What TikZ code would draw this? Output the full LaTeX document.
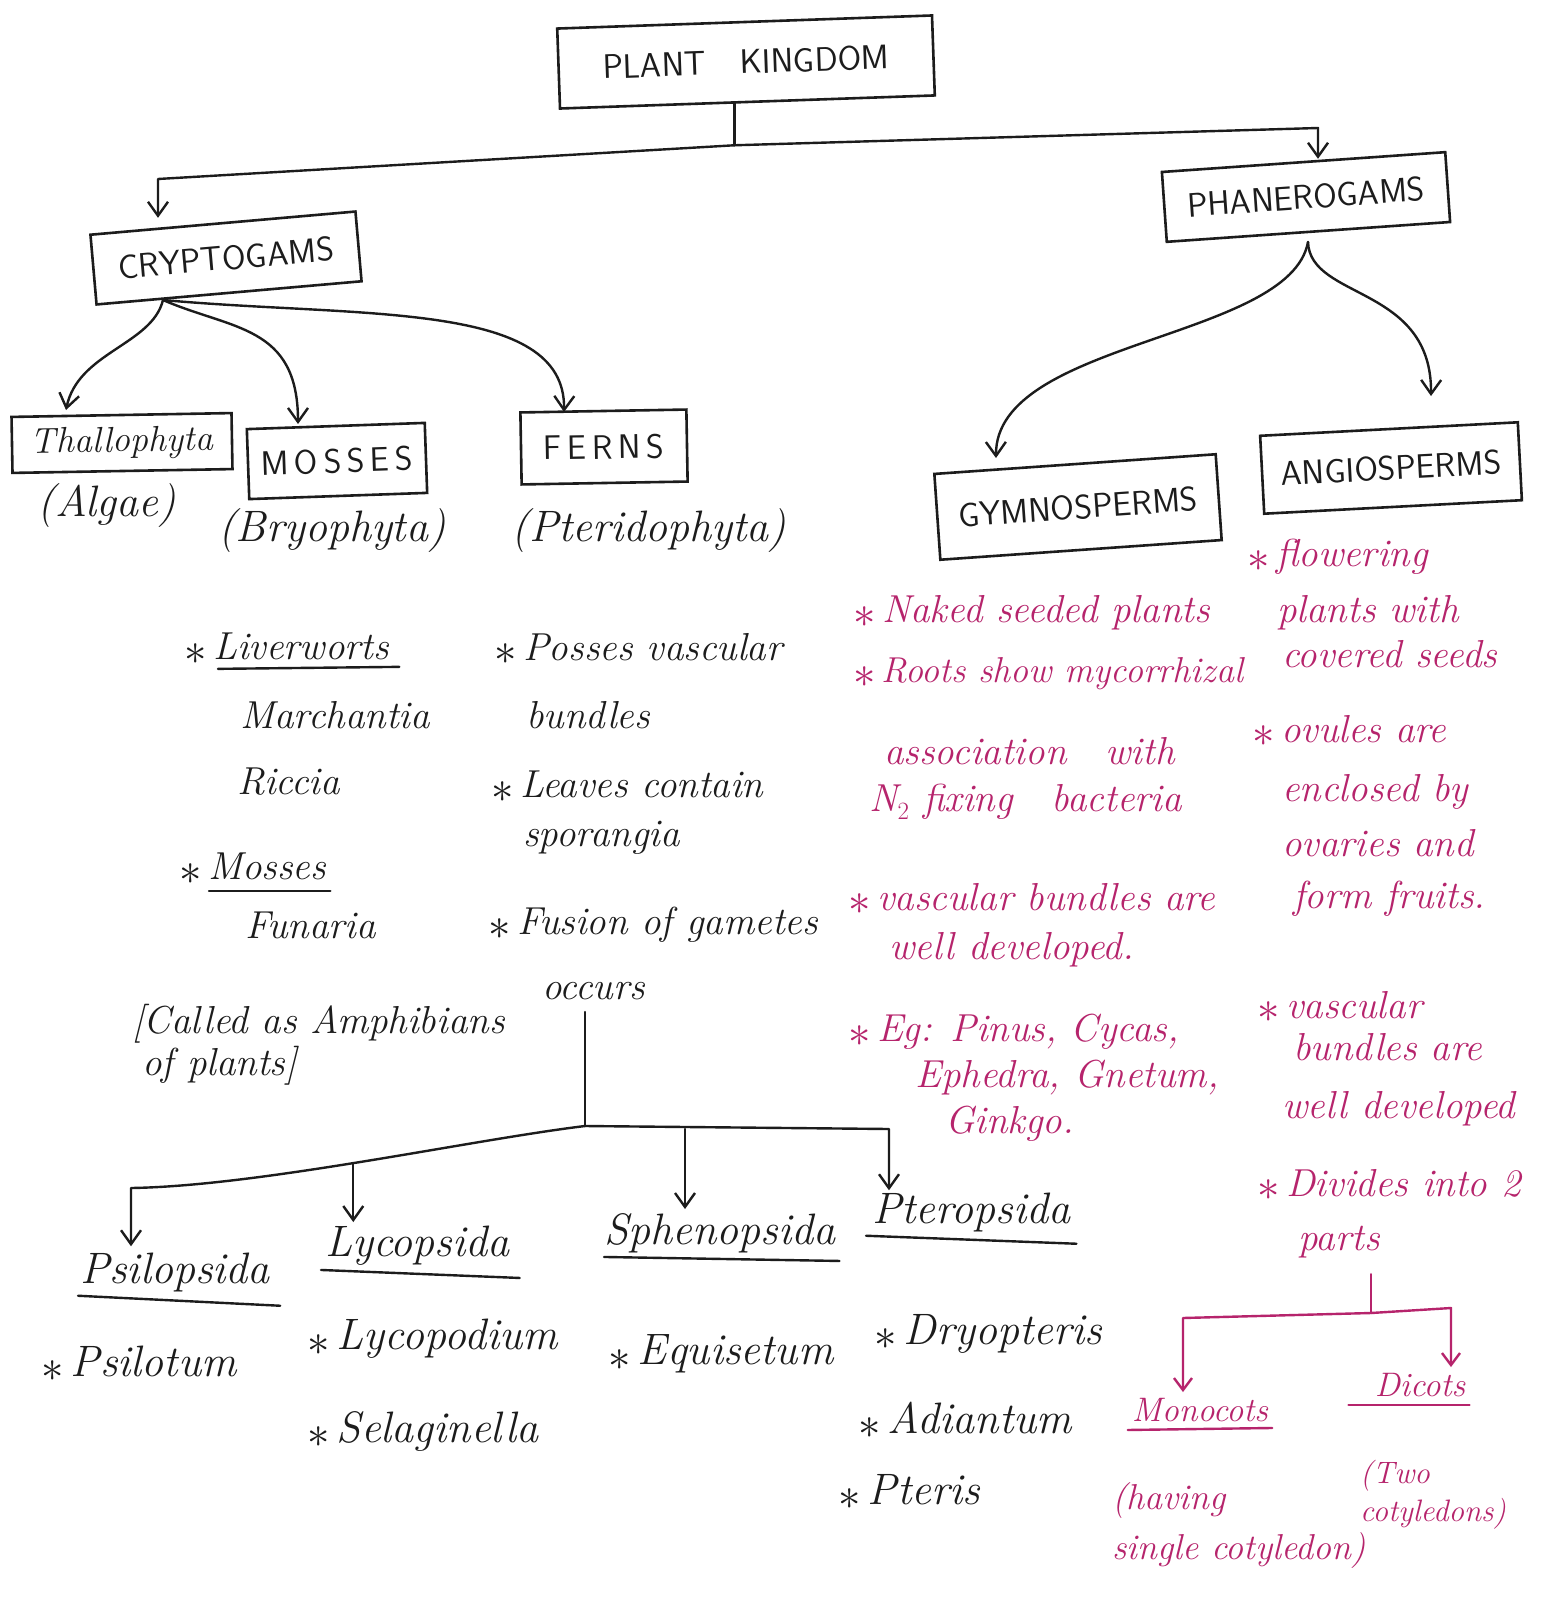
\documentclass[tikz,border=0pt]{standalone}
\usepackage{graphicx}
\usetikzlibrary{arrows.meta}
\definecolor{ink}{RGB}{28,28,28}
\definecolor{pinkink}{RGB}{182,36,108}
\newcommand{\bxf}{\sffamily\fontsize{34}{40}\selectfont}
\newcommand{\ntf}{\itshape\fontsize{39}{46}\selectfont}
\newcommand{\bgf}{\itshape\fontsize{44}{50}\selectfont}
\newcommand{\st}{\raisebox{-0.12em}{\scalebox{1.8}{$\ast$}}\,}
\begin{document}
\begin{tikzpicture}[x=1pt,y=-1pt,
  box/.style={draw=ink, line width=2.6pt, inner sep=0pt, font=\bxf, text=ink},
  note/.style={anchor=west, inner sep=0pt, font=\ntf, text=ink},
  pnote/.style={note, text=pinkink},
  bnote/.style={note, font=\bgf},
  ln/.style={draw=ink, line width=2.4pt, line cap=round, line join=round},
  pln/.style={draw=pinkink, line width=2.4pt, line cap=round, line join=round},
  arr/.style={ln, -{Straight Barb[length=14pt,width=20pt]}},
  parr/.style={pln, -{Straight Barb[length=12pt,width=18pt]}}]
\fill[white] (0,0) rectangle (1540,1602);
\useasboundingbox (0,0) rectangle (1540,1602);

% ---------- boxes ----------
\node[box, rotate=2, minimum width=375pt, minimum height=80pt] (pk) at (746,62) {PLANT\quad KINGDOM};
\node[box, rotate=5, minimum width=266pt, minimum height=70pt] (cry) at (226,258) {CRYPTOGAMS};
\node[box, rotate=4, minimum width=284pt, minimum height=70pt] (phan) at (1306,197) {PHANEROGAMS};
\node[box, rotate=1, minimum width=220pt, minimum height=56pt, font=\itshape\fontsize{36}{40}\selectfont] (thal) at (122,443) {Thallophyta};
\node[box, rotate=2, minimum width=178pt, minimum height=70pt] (moss) at (337,461) {M\,O\,S\,S\,E\,S};
\node[box, rotate=1, minimum width=166pt, minimum height=72pt] (fern) at (604,447) {F\,E\,R\,N\,S};
\node[box, rotate=4, minimum width=282pt, minimum height=86pt] (gym) at (1078,507) {GYMNOSPERMS};
\node[box, rotate=3, minimum width=258pt, minimum height=78pt] (ang) at (1391,468) {ANGIOSPERMS};

% ---------- top connectors ----------
\path ([xshift=-13pt]pk.south) coordinate (pks) ++(0,42) coordinate (j1);
\coordinate (cl) at (158,179);
\coordinate (cr) at (1318,128);
\draw[ln] (pks) -- (j1);
\draw[arr, shorten >=4pt] (j1) -- (cl) -- (cl |- cry.north);
\draw[arr, shorten >=2pt] (j1) -- (cr) -- (cr |- phan.north);

% cryptogams branches
\coordinate (cs) at (163,300);
\draw[arr] (cs) .. controls (152,345) and (78,352) .. (66,410);
\draw[arr] (cs) .. controls (232,330) and (298,325) .. (298,424);
\draw[arr] (cs) .. controls (360,318) and (566,300) .. (564,412);

% phanerogams branches
\coordinate (ps) at (1308,242);
\draw[arr] (ps) .. controls (1290,340) and (995,340) .. (996,458);
\draw[arr] (ps) .. controls (1310,300) and (1432,285) .. (1431,396);

% ---------- labels under boxes ----------
\node[bnote, anchor=center] (alg) at (107,506) {(Algae)};
\node[bnote, anchor=center] (bry) at (332,531) {(Bryophyta)};
\node[bnote, anchor=center] (pter) at (649,531) {(Pteridophyta)};

% ---------- bryophyta notes ----------
\node[note] (liv) at (184,649) {\st Liverworts};
\draw[ln] ([xshift=34pt,yshift=-4pt]liv.south west) -- ([xshift=10pt,yshift=-2pt]liv.south east);
\node[note] (mar) at (240,715) {Marchantia};
\node[note] (ric) at (237,782) {Riccia};
\node[note] (mos) at (179,869) {\st Mosses};
\node[note] (fun) at (245,925) {Funaria};
\draw[ln] ([xshift=30pt,yshift=-6pt]mos.south west) -- ([xshift=4pt,yshift=-6pt]mos.south east);
\node[note, align=left] (amp) at (132,1045) {[Called as Amphibians\\[-4pt]\hspace*{10pt}of plants]};

% ---------- pteridophyta notes ----------
\node[note] (f1) at (494,649) {\st Posses vascular};
\node[note] (f2) at (526,715) {bundles};
\node[note] (f3) at (491,787) {\st Leaves contain};
\node[note] (f4) at (523,838) {sporangia};
\node[note] (f5) at (488,925) {\st Fusion of gametes};
\node[note] (f6) at (542,991) {occurs};

% ---------- classes of ferns ----------
\coordinate (j2) at (585,1126);
\coordinate (l1) at (131,1188);
\coordinate (r1) at (889,1129);
\draw[ln] (f6.south -| j2) ++(0,12) -- (j2);

\node[bnote] (psi) at (80,1272) {Psilopsida};
\node[bnote] (lyc) at (325,1246) {Lycopsida};
\node[bnote] (sph) at (604,1233) {Sphenopsida};
\node[bnote] (ptd) at (872,1212) {Pteropsida};
\draw[ln] ([xshift=-2pt,yshift=-4pt]psi.south west) -- ([xshift=10pt,yshift=-14pt]psi.south east);
\draw[ln] ([xshift=-4pt,yshift=-4pt]lyc.south west) -- ([xshift=10pt,yshift=-12pt]lyc.south east);
\draw[ln] ([xshift=0pt,yshift=-4pt]sph.south west) -- ([xshift=4pt,yshift=-8pt]sph.south east);
\draw[ln] ([xshift=-6pt,yshift=-4pt]ptd.south west) -- ([xshift=6pt,yshift=-12pt]ptd.south east);

\draw[arr, shorten >=6pt] (j2) .. controls (470,1140) and (260,1186) .. coordinate[pos=0.52] (b2) (l1) -- (l1 |- psi.north);
\draw[arr, shorten >=4pt] (b2) -- (b2 |- lyc.north);
\draw[arr, shorten >=2pt] (j2) -- (r1) -- (r1 |- ptd.north);
\coordinate (b3) at (685,1129);
\draw[arr, shorten >=4pt] (b3) -- (b3 |- sph.north);

\node[bnote] (e1) at (41,1364) {\st Psilotum};
\node[bnote] (e2) at (307,1339) {\st Lycopodium};
\node[bnote] (e3) at (307,1431) {\st Selaginella};
\node[bnote] (e4) at (608,1354) {\st Equisetum};
\node[bnote] (e5) at (874,1334) {\st Dryopteris};
\node[bnote] (e6) at (858,1420) {\st Adiantum};
\node[bnote] (e7) at (838,1492) {\st Pteris};

% ---------- gymnosperm notes ----------
\node[pnote] (g1) at (853,613) {\st Naked seeded plants};
\node[pnote, font=\itshape\fontsize{36}{44}\selectfont] (g2) at (853,674) {\st Roots show mycorrhizal};
\node[pnote] (g3) at (884,751) {association\quad with};
\node[pnote] (g4) at (869,802) {N$_2$ fixing\quad bacteria};
\node[pnote] (g5) at (848,899) {\st vascular bundles are};
\node[pnote] (g6) at (889,950) {well developed.};
\node[pnote] (g7) at (848,1032) {\st Eg: Pinus, Cycas,};
\node[pnote] (g8) at (915,1078) {Ephedra, Gnetum,};
\node[pnote] (g9) at (945,1124) {Ginkgo.};

% ---------- angiosperm notes ----------
\node[pnote] (a1) at (1247,557) {\st flowering};
\node[pnote] (a2) at (1277,613) {plants with};
\node[pnote] (a3) at (1282,654) {covered seeds};
\node[pnote] (a4) at (1252,731) {\st ovules are};
\node[pnote] (a5) at (1282,792) {enclosed by};
\node[pnote] (a6) at (1282,843) {ovaries and};
\node[pnote] (a7) at (1293,899) {form fruits.};
\node[pnote] (a8) at (1257,1007) {\st vascular};
\node[pnote] (a9) at (1293,1047) {bundles are};
\node[pnote] (a10) at (1282,1109) {well developed};
\node[pnote] (a11) at (1257,1185) {\st Divides into 2};
\node[pnote] (a12) at (1298,1242) {parts};

% monocots / dicots
\node[pnote, anchor=center, font=\itshape\fontsize{34}{40}\selectfont] (mono) at (1200,1410) {Monocots};
\node[pnote, anchor=center, font=\itshape\fontsize{34}{40}\selectfont] (dic) at (1420,1385) {Dicots};
\draw[pln] ([xshift=-4pt,yshift=-8pt]mono.south west) -- ([xshift=4pt,yshift=-6pt]mono.south east);
\draw[pln] ([xshift=-26pt,yshift=-8pt]dic.south west) -- ([xshift=4pt,yshift=-8pt]dic.south east);
\node[pnote, align=left, font=\itshape\fontsize{36}{42}\selectfont] (mdesc) at (1112,1525) {(having\\[8pt]single cotyledon)};
\node[pnote, align=left, font=\itshape\fontsize{31}{38}\selectfont] (ddesc) at (1360,1495) {(Two\\cotyledons)};

\coordinate (j3) at (1371,1313);
\coordinate (ml) at (1183,1318);
\coordinate (dr) at (1451,1308);
\draw[pln] (a12.south -| j3) ++(0,16) -- (j3);
\draw[parr, shorten >=6pt] (j3) -- (ml) -- (ml |- mono.north);
\draw[parr, shorten >=6pt] (j3) -- (dr) -- (dr |- dic.north);
\end{tikzpicture}
\end{document}
